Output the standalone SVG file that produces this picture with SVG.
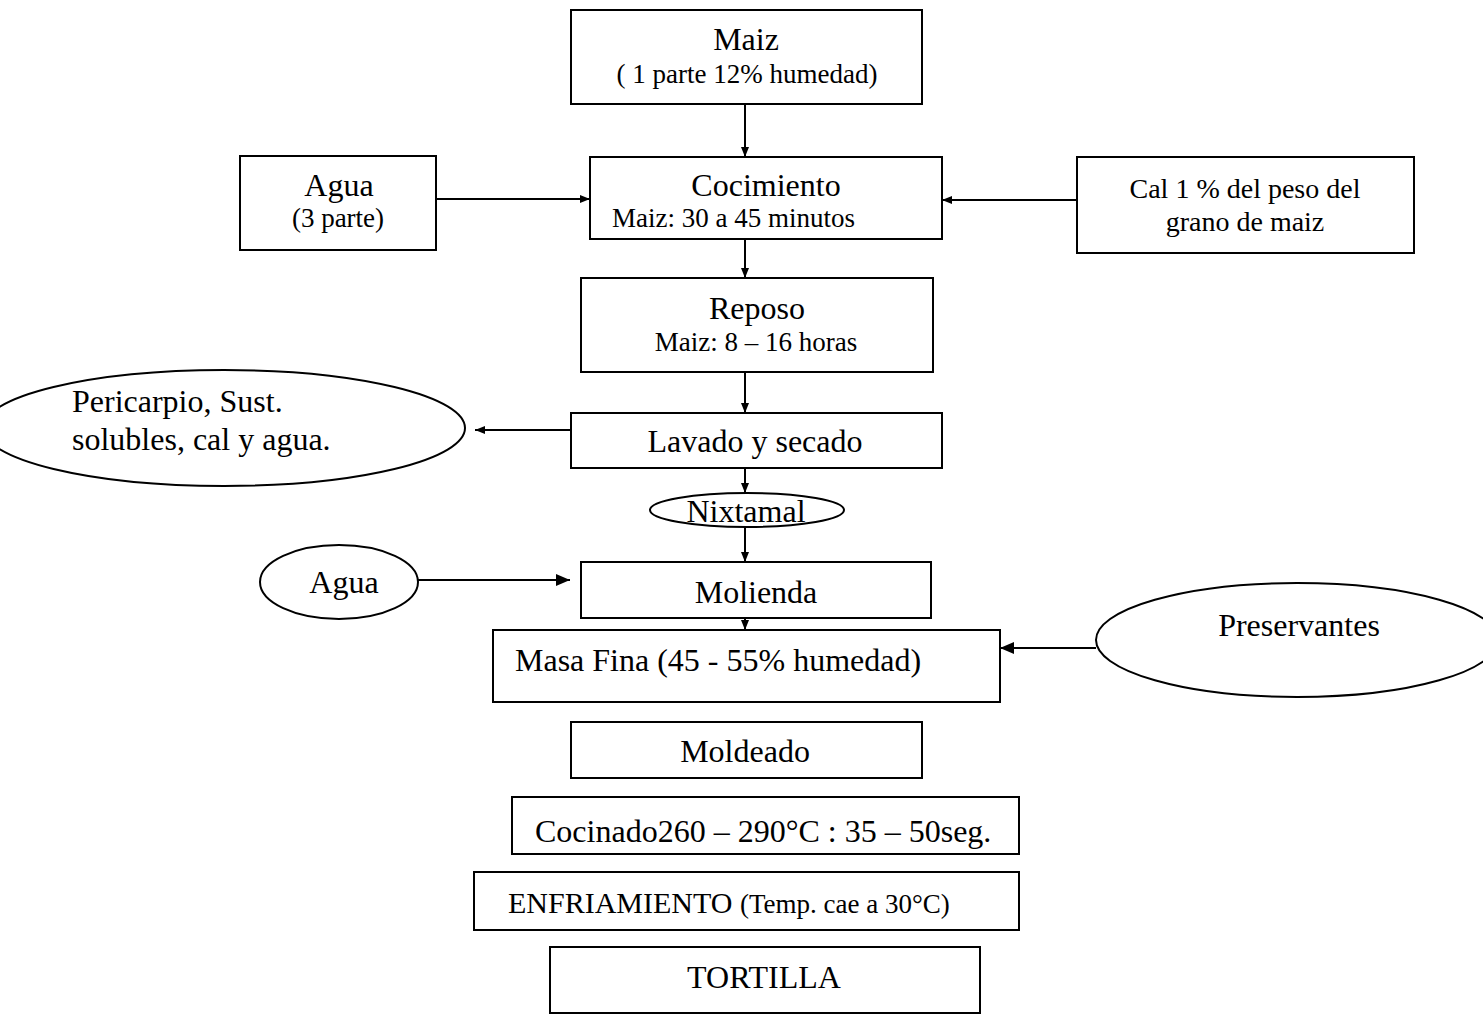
<svg xmlns="http://www.w3.org/2000/svg" width="1483" height="1014" viewBox="0 0 1483 1014">
  <style>
    .box { fill: #ffffff; stroke: #000000; stroke-width: 2; }
    .oval { fill: #ffffff; stroke: #000000; stroke-width: 2; }
    .edge { fill: none; stroke: #000000; stroke-width: 2; }
    .t { font-family: "Liberation Serif", "Times New Roman", serif; font-size: 32px; fill: #000000; }
    .s { font-family: "Liberation Serif", "Times New Roman", serif; font-size: 27px; fill: #000000; }
    .c { text-anchor: middle; }
  </style>
  <defs>
    <marker id="arr" viewBox="0 0 10 10" refX="10" refY="5" markerWidth="10" markerHeight="10" markerUnits="userSpaceOnUse" orient="auto">
      <path d="M0,1 L10,5 L0,9 Z" fill="#000000"/>
    </marker>
    <marker id="arrBig" viewBox="0 0 14 14" refX="14" refY="7" markerWidth="14" markerHeight="14" markerUnits="userSpaceOnUse" orient="auto">
      <path d="M0,1 L14,7 L0,13 Z" fill="#000000"/>
    </marker>
  </defs>

  <rect width="1483" height="1014" fill="#ffffff"/>

  <!-- connectors -->
  <g id="connectors">
    <line class="edge" x1="745" y1="104" x2="745" y2="157" marker-end="url(#arr)"/>
    <line class="edge" x1="436" y1="199" x2="590" y2="199" marker-end="url(#arr)"/>
    <line class="edge" x1="1077" y1="200" x2="942" y2="200" marker-end="url(#arr)"/>
    <line class="edge" x1="745" y1="239" x2="745" y2="278" marker-end="url(#arr)"/>
    <line class="edge" x1="745" y1="372" x2="745" y2="413" marker-end="url(#arr)"/>
    <line class="edge" x1="571" y1="430" x2="475" y2="430" marker-end="url(#arr)"/>
    <line class="edge" x1="745" y1="468" x2="745" y2="493" marker-end="url(#arr)"/>
    <line class="edge" x1="745" y1="527" x2="745" y2="562" marker-end="url(#arr)"/>
    <line class="edge" x1="418" y1="580" x2="570" y2="580" marker-end="url(#arrBig)"/>
    <line class="edge" x1="745" y1="618" x2="745" y2="630" marker-end="url(#arr)"/>
    <line class="edge" x1="1096" y1="648" x2="1000" y2="648" marker-end="url(#arrBig)"/>
  </g>

  <g id="maiz">
    <rect class="box" x="571" y="10" width="351" height="94"/>
    <text class="t c" x="746" y="50">Maiz</text>
    <text class="s c" x="747" y="83">( 1 parte 12% humedad)</text>
  </g>

  <g id="agua-box">
    <rect class="box" x="240" y="156" width="196" height="94"/>
    <text class="t c" x="339" y="196">Agua</text>
    <text class="s c" x="338" y="227">(3 parte)</text>
  </g>

  <g id="cocimiento">
    <rect class="box" x="590" y="157" width="352" height="82"/>
    <text class="t c" x="766" y="196">Cocimiento</text>
    <text class="s" x="612" y="227">Maiz: 30 a 45 minutos</text>
  </g>

  <g id="cal">
    <rect class="box" x="1077" y="157" width="337" height="96"/>
    <text class="s c" x="1245" y="198" style="font-size:28px">Cal  1  % del peso del</text>
    <text class="s c" x="1245" y="231" style="font-size:28px">grano de maiz</text>
  </g>

  <g id="reposo">
    <rect class="box" x="581" y="278" width="352" height="94"/>
    <text class="t c" x="757" y="319">Reposo</text>
    <text class="s c" x="756" y="351">Maiz: 8 – 16 horas</text>
  </g>

  <g id="lavado">
    <rect class="box" x="571" y="413" width="371" height="55"/>
    <text class="t c" x="755" y="452">Lavado y secado</text>
  </g>

  <g id="residuos">
    <ellipse class="oval" cx="224" cy="428" rx="241" ry="58"/>
    <text class="t" x="72" y="412">Pericarpio, Sust.</text>
    <text class="t" x="72" y="450">solubles, cal y agua.</text>
  </g>

  <g id="nixtamal">
    <ellipse class="oval" cx="747" cy="510" rx="97" ry="17"/>
    <text class="t c" x="746" y="522">Nixtamal</text>
  </g>

  <g id="agua-oval">
    <ellipse class="oval" cx="339" cy="582" rx="79" ry="37"/>
    <text class="t c" x="344" y="593">Agua</text>
  </g>

  <g id="molienda">
    <rect class="box" x="581" y="562" width="350" height="56"/>
    <text class="t c" x="756" y="603">Molienda</text>
  </g>

  <g id="masa">
    <rect class="box" x="493" y="630" width="507" height="72"/>
    <text class="t" x="515" y="671">Masa Fina (45 - 55% humedad)</text>
  </g>

  <g id="preservantes">
    <ellipse class="oval" cx="1297" cy="640" rx="201" ry="57"/>
    <text class="t c" x="1299" y="636">Preservantes</text>
  </g>

  <g id="moldeado">
    <rect class="box" x="571" y="722" width="351" height="56"/>
    <text class="t c" x="745" y="762">Moldeado</text>
  </g>

  <g id="cocinado">
    <rect class="box" x="512" y="797" width="507" height="57"/>
    <text class="t" x="535" y="842">Cocinado260 – 290°C : 35 – 50seg.</text>
  </g>

  <g id="enfriamiento">
    <rect class="box" x="474" y="872" width="545" height="58"/>
    <text class="t" x="508" y="913" style="font-size:30px">ENFRIAMIENTO <tspan style="font-size:27px">(Temp. cae a 30°C)</tspan></text>
  </g>

  <g id="tortilla">
    <rect class="box" x="550" y="947" width="430" height="66"/>
    <text class="t c" x="764" y="988">TORTILLA</text>
  </g>
</svg>
